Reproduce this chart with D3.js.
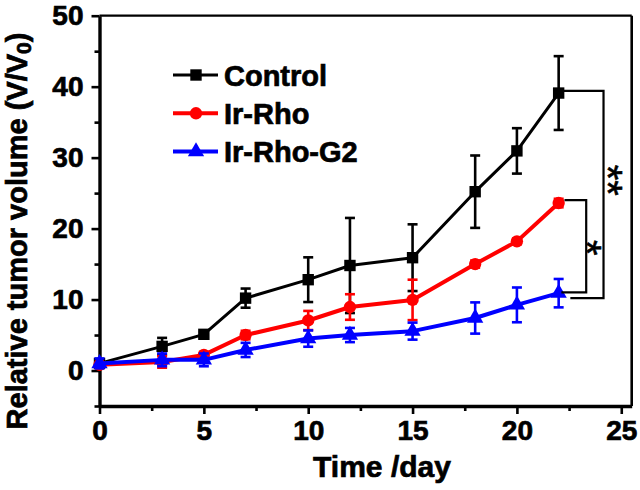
<!DOCTYPE html>
<html>
<head>
<meta charset="utf-8">
<script src="https://cdn.jsdelivr.net/npm/d3@7"></script>
<style>
  html, body { margin: 0; padding: 0; background: #fff; }
  svg { display: block; font-family: "Liberation Sans", Arial, sans-serif; }
</style>
</head>
<body>
<svg id="chart" width="640" height="490"></svg>
<script>
// ---- data ----
const days = [0, 3, 5, 7, 10, 12, 15, 18, 20, 22];
const controlMean = [1.0, 3.4, 5.1, 10.2, 12.8, 14.8, 15.9, 25.2, 30.95, 39.1];
const controlErr  = [0.0, 1.2, 0.35, 1.35, 3.15, 6.7, 4.7, 5.1, 3.2, 5.2];
const irRhoMean   = [0.8, 1.2, 2.2, 5.0, 7.05, 8.95, 9.95, 15.0, 18.2, 23.6];
const irRhoErr    = [0.3, 0.8, 0.4, 0.6, 1.35, 1.8, 2.85, 0.5, 0.4, 0.6];
const g2Mean      = [1.0, 1.5, 1.5, 2.9, 4.5, 5.0, 5.55, 7.4, 9.25, 10.9];
const g2Err       = [0.7, 0.9, 0.9, 1.0, 1.15, 1.0, 1.2, 2.2, 2.45, 2.0];
const seriesNames = ["Control", "Ir-Rho", "Ir-Rho-G2"];
const seriesColors = ["#000000", "#ff0000", "#0000ff"];
const xMajorTicks = [0, 5, 10, 15, 20, 25];
const xMinorTicks = [2.5, 7.5, 12.5, 17.5, 22.5];
const yMajorTicks = [0, 10, 20, 30, 40, 50];
const yMinorTicks = [-5, 5, 15, 25, 35, 45];
// significance brackets: [xLeftTop, yTop, xRight, yBottom, xLeftBottom], label, label position
const bracketOuter = [22.19, 39.4, 24.15, 10.2, 22.56];
const bracketInner = [22.28, 24.0, 23.32, 11.0, 22.13];
const outerLabel = "**", outerLabelPos = [24.8, 26.8];
const innerLabel = "*",  innerLabelPos = [23.78, 17.3];

// ---- layout ----
const svg = d3.select("#chart");
const x = d3.scaleLinear().domain([0, 25.5]).range([99.5, 631.7]);
const y = d3.scaleLinear().domain([-5, 50]).range([406, 15.7]);
const FONT = "'Liberation Sans', Arial, sans-serif";
const HEAVY = 0.7; // extra stroke to mimic heavier bold face

// frame top/right
svg.append("line").attr("x1", x(0)).attr("x2", x(25.5)).attr("y1", y(50)).attr("y2", y(50))
  .attr("stroke", "#000").attr("stroke-width", 2.2);
svg.append("line").attr("x1", x(25.5)).attr("x2", x(25.5)).attr("y1", y(50)).attr("y2", y(-5))
  .attr("stroke", "#000").attr("stroke-width", 2.6);

// axes
function styleAxis(g) {
  g.select(".domain").attr("stroke-width", 3.4).attr("stroke", "#000");
  g.selectAll(".tick line").attr("stroke-width", 2.6).attr("stroke", "#000");
  g.selectAll(".tick text").attr("font-family", FONT).attr("font-weight", "bold")
    .attr("font-size", 28).attr("fill", "#000").attr("stroke", "#000").attr("stroke-width", HEAVY);
}
const xAxis = svg.append("g").attr("transform", `translate(0,${y(-5)})`)
  .call(d3.axisBottom(x).tickValues(xMajorTicks).tickSize(8).tickPadding(6).tickSizeOuter(0).tickFormat(d3.format("d")));
styleAxis(xAxis);
const xMinor = svg.append("g").attr("transform", `translate(0,${y(-5)})`)
  .call(d3.axisBottom(x).tickValues(xMinorTicks).tickSize(5).tickFormat(""));
xMinor.select(".domain").remove();
xMinor.selectAll(".tick line").attr("stroke-width", 2.6);

const yAxis = svg.append("g").attr("transform", `translate(${x(0)},0)`)
  .call(d3.axisLeft(y).tickValues(yMajorTicks).tickSize(8).tickPadding(8).tickSizeOuter(0).tickFormat(d3.format("d")));
styleAxis(yAxis);
const yMinor = svg.append("g").attr("transform", `translate(${x(0)},0)`)
  .call(d3.axisLeft(y).tickValues(yMinorTicks).tickSize(5).tickFormat(""));
yMinor.select(".domain").remove();
yMinor.selectAll(".tick line").attr("stroke-width", 2.6);

// axis titles
svg.append("text").attr("x", 382).attr("y", 477).attr("text-anchor", "middle")
  .attr("font-family", FONT).attr("font-weight", "bold").attr("font-size", 30)
  .attr("stroke", "#000").attr("stroke-width", HEAVY)
  .text("Time /day");
const yt = svg.append("text").attr("transform", "translate(27,231) rotate(-90)")
  .attr("text-anchor", "middle").attr("font-family", FONT).attr("font-weight", "bold").attr("font-size", 29)
  .attr("stroke", "#000").attr("stroke-width", HEAVY);
yt.append("tspan").text("Relative tumor volume (V/V");
yt.append("tspan").attr("font-size", 21).attr("dy", 4).text("0");
yt.append("tspan").attr("dy", -4).text(")");

// series
const series = [
  { name: seriesNames[0], color: seriesColors[0], mean: controlMean, err: controlErr, shape: d3.symbolSquare, size: 130, lw: 3 },
  { name: seriesNames[1], color: seriesColors[1], mean: irRhoMean, err: irRhoErr, shape: d3.symbolCircle, size: 120, lw: 4 },
  { name: seriesNames[2], color: seriesColors[2], mean: g2Mean, err: g2Err, shape: d3.symbolTriangle, size: 115, lw: 4 }
];
const line = d3.line();
series.forEach(s => {
  const g = svg.append("g");
  const pts = days.map((d, i) => [x(d), y(s.mean[i])]);
  // error bars
  days.forEach((d, i) => {
    const cx = x(d), top = y(s.mean[i] + s.err[i]), bot = y(s.mean[i] - s.err[i]);
    g.append("line").attr("x1", cx).attr("x2", cx).attr("y1", top).attr("y2", bot)
      .attr("stroke", s.color).attr("stroke-width", 2.6);
    [top, bot].forEach(yy => g.append("line").attr("x1", cx - 5).attr("x2", cx + 5)
      .attr("y1", yy).attr("y2", yy).attr("stroke", s.color).attr("stroke-width", 2.6));
  });
  g.append("path").attr("d", line(pts)).attr("fill", "none")
    .attr("stroke", s.color).attr("stroke-width", s.lw).attr("stroke-linejoin", "round");
  g.selectAll("path.m").data(pts).enter().append("path").attr("class", "m")
    .attr("transform", p => `translate(${p[0]},${p[1]})`)
    .attr("d", d3.symbol().type(s.shape).size(s.size)).attr("fill", s.color);
});

// legend
series.forEach((s, i) => {
  const ly = 75 + i * 38.3;
  svg.append("line").attr("x1", 173).attr("x2", 218).attr("y1", ly).attr("y2", ly)
    .attr("stroke", s.color).attr("stroke-width", s.lw);
  svg.append("path").attr("transform", `translate(196,${ly})`)
    .attr("d", d3.symbol().type(s.shape).size(s.size)).attr("fill", s.color);
  svg.append("text").attr("x", 224).attr("y", ly + 10.5)
    .attr("font-family", FONT).attr("font-weight", "bold").attr("font-size", 29)
    .attr("stroke", "#000").attr("stroke-width", HEAVY).text(s.name);
});

// significance brackets
function bracket(b) {
  const p = d3.path();
  p.moveTo(x(b[0]), y(b[1]));
  p.lineTo(x(b[2]), y(b[1]));
  p.lineTo(x(b[2]), y(b[3]));
  p.lineTo(x(b[4]), y(b[3]));
  svg.append("path").attr("d", p.toString()).attr("fill", "none").attr("stroke", "#000").attr("stroke-width", 2.2);
}
bracket(bracketOuter);
bracket(bracketInner);
[[outerLabel, outerLabelPos], [innerLabel, innerLabelPos]].forEach(([t, pos]) => {
  svg.append("text").attr("transform", `translate(${x(pos[0])},${y(pos[1])}) rotate(90)`)
    .attr("text-anchor", "middle").attr("dy", "0.57em")
    .attr("font-family", FONT).attr("font-size", 40)
    .attr("stroke", "#000").attr("stroke-width", 0.6).text(t);
});
</script>
</body>
</html>
